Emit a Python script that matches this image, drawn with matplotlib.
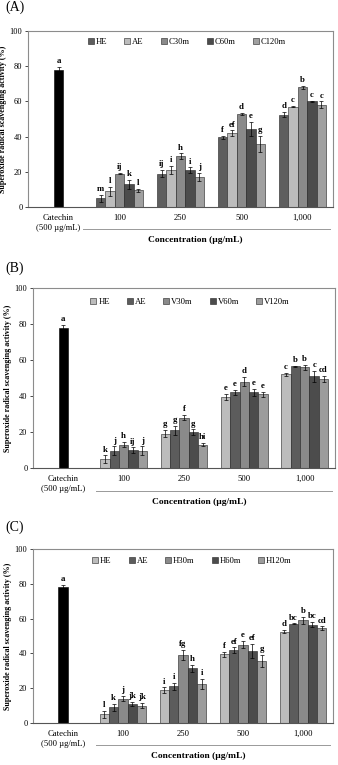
import numpy as np
import matplotlib
matplotlib.use("Agg")
import matplotlib.pyplot as plt

plt.rcParams['font.family'] = ['Liberation Serif', 'DejaVu Serif']

# wspolne kategorie
kategorie = ['Catechin\n(500 µg/mL)', '100', '250', '500', '1,000']
catechin = 78.0
catechin_err = 1.5

# (A)
serie_A = ['HE', 'AE', 'C30m', 'C60m', 'C120m']
wart_A = [[5, 19, 39.5, 52.5],
          [9, 21, 42, 57],
          [19, 29, 53, 68],
          [13, 21, 44.5, 60],
          [9.5, 17, 36, 58]]
err_A = [[2, 2, 1, 1.5],
         [2.5, 2.5, 1.5, 0.3],
         [0.5, 1.5, 0.5, 0.8],
         [2.5, 1.5, 4, 0.5],
         [0.8, 2.5, 4.5, 2]]
lit_A = [['m', 'ij', 'f', 'd'],
         ['l', 'i', 'ef', 'c'],
         ['ij', 'h', 'd', 'b'],
         ['k', 'i', 'e', 'c'],
         ['l', 'j', 'g', 'c']]
kolory_A = ['#5e5e5e', '#bcbcbc', '#8a8a8a', '#4c4c4c', '#a0a0a0']

# (B)
serie_B = ['HE', 'AE', 'V30m', 'V60m', 'V120m']
wart_B = [[5, 19, 39.5, 52],
          [9.5, 21, 42, 56.5],
          [13, 28, 48, 56],
          [10, 20, 42, 51],
          [9.5, 13, 41, 49.5]]
err_B = [[2, 2, 1.5, 1],
         [2.5, 2.5, 1.5, 0.3],
         [1.5, 1.5, 2.5, 1.5],
         [1.5, 1.5, 2, 3],
         [2.5, 0.8, 1.5, 1.5]]
lit_B = [['k', 'g', 'e', 'c'],
         ['j', 'g', 'e', 'b'],
         ['h', 'f', 'd', 'b'],
         ['ij', 'g', 'e', 'c'],
         ['j', 'hi', 'e', 'cd']]
kolory_B = ['#bcbcbc', '#5c5c5c', '#8a8a8a', '#4c4c4c', '#9c9c9c']

# (C)
serie_C = ['HE', 'AE', 'H30m', 'H60m', 'H120m']
wart_C = [[5, 19, 39.5, 52.5],
          [9, 21, 42, 57],
          [14, 39, 45, 59],
          [11, 31.5, 41.5, 56.5],
          [10, 22.5, 35.5, 54.5]]
err_C = [[2, 1.5, 1.5, 1],
         [2, 2, 1.5, 0.3],
         [1.5, 3, 2, 2],
         [1, 2, 4, 1.5],
         [1.5, 3, 3.5, 1]]
lit_C = [['l', 'i', 'f', 'd'],
         ['k', 'i', 'ef', 'bc'],
         ['j', 'fg', 'e', 'b'],
         ['jk', 'h', 'ef', 'bc'],
         ['jk', 'i', 'g', 'cd']]
kolory_C = ['#bcbcbc', '#5c5c5c', '#8a8a8a', '#4c4c4c', '#9c9c9c']

W, H = 338, 765
fig = plt.figure(figsize=(W / 100, H / 100), dpi=100)


def px_axes(l, r, t, b):
    return fig.add_axes([l / W, 1 - b / H, (r - l) / W, (b - t) / H])


def rysuj(ax, serie, wart, err, lit, kolory, leg_x, leg_y, linia_x0):
    szer = 0.155
    x = np.arange(1, 5)
    # catechin
    ax.bar(0, catechin, szer, color='black', edgecolor='black', linewidth=0.4)
    ax.errorbar(0, catechin, yerr=catechin_err, fmt='none', ecolor='black',
                elinewidth=0.5, capsize=1.5, capthick=0.5)
    ax.text(0, catechin + catechin_err + 1.0, 'a', ha='center', va='bottom',
            fontsize=6.3, fontweight='bold')
    for i in range(5):
        xs = x + (i - 2) * szer
        ax.bar(xs, wart[i], szer, color=kolory[i], edgecolor='#222222',
               linewidth=0.4, label=serie[i])
        ax.errorbar(xs, wart[i], yerr=err[i], fmt='none', ecolor='black',
                    elinewidth=0.5, capsize=1.3, capthick=0.5)
        for xx, v, e, t in zip(xs, wart[i], err[i], lit[i]):
            ax.text(xx, v + e + 1.0, t, ha='center', va='bottom',
                    fontsize=6.3, fontweight='bold')
    ax.set_xlim(-0.5, 4.5)
    ax.set_ylim(0, 100)
    ax.set_yticks(np.arange(0, 101, 20))
    ax.tick_params(axis='y', labelsize=6, length=2, width=0.5, pad=2)
    ax.set_xticks(range(5))
    ax.set_xticklabels(kategorie, fontsize=6.2, linespacing=1.3)
    ax.tick_params(axis='x', length=0, pad=5)
    for s in ax.spines.values():
        s.set_color('#8c8c8c')
        s.set_linewidth(0.8)
    ax.spines['bottom'].set_color('#555555')
    ax.set_ylabel('Superoxide radical scavenging activity (%)', fontsize=5.8,
                  fontweight='bold', labelpad=2)
    ax.legend(loc='center', bbox_to_anchor=(leg_x, leg_y), ncol=5, frameon=False,
              fontsize=6.2, handlelength=0.7, handleheight=0.7, handletextpad=0.2,
              columnspacing=2.0, borderaxespad=0)
    ax.plot([linia_x0, 0.99], [-0.125, -0.125], color='#999999', linewidth=0.7,
            transform=ax.transAxes, clip_on=False)
    ax.text(0.55, -0.19, 'Concentration (µg/mL)', transform=ax.transAxes,
            ha='center', va='center', fontsize=6.8, fontweight='bold')


axA = px_axes(28, 333, 31, 207)
axB = px_axes(33, 335, 288, 468)
axC = px_axes(33, 333, 549, 723)

rysuj(axA, serie_A, wart_A, err_A, lit_A, kolory_A, 0.52, 0.94, 0.18)
rysuj(axB, serie_B, wart_B, err_B, lit_B, kolory_B, 0.52, 0.92, 0.21)
rysuj(axC, serie_C, wart_C, err_C, lit_C, kolory_C, 0.53, 0.93, 0.21)

fig.text(5 / W, 1 - 7 / H, '(A)', fontsize=10, va='center', ha='left')
fig.text(5 / W, 1 - 268 / H, '(B)', fontsize=10, va='center', ha='left')
fig.text(5 / W, 1 - 527 / H, '(C)', fontsize=10, va='center', ha='left')

fig.savefig('out.png', dpi=100)
